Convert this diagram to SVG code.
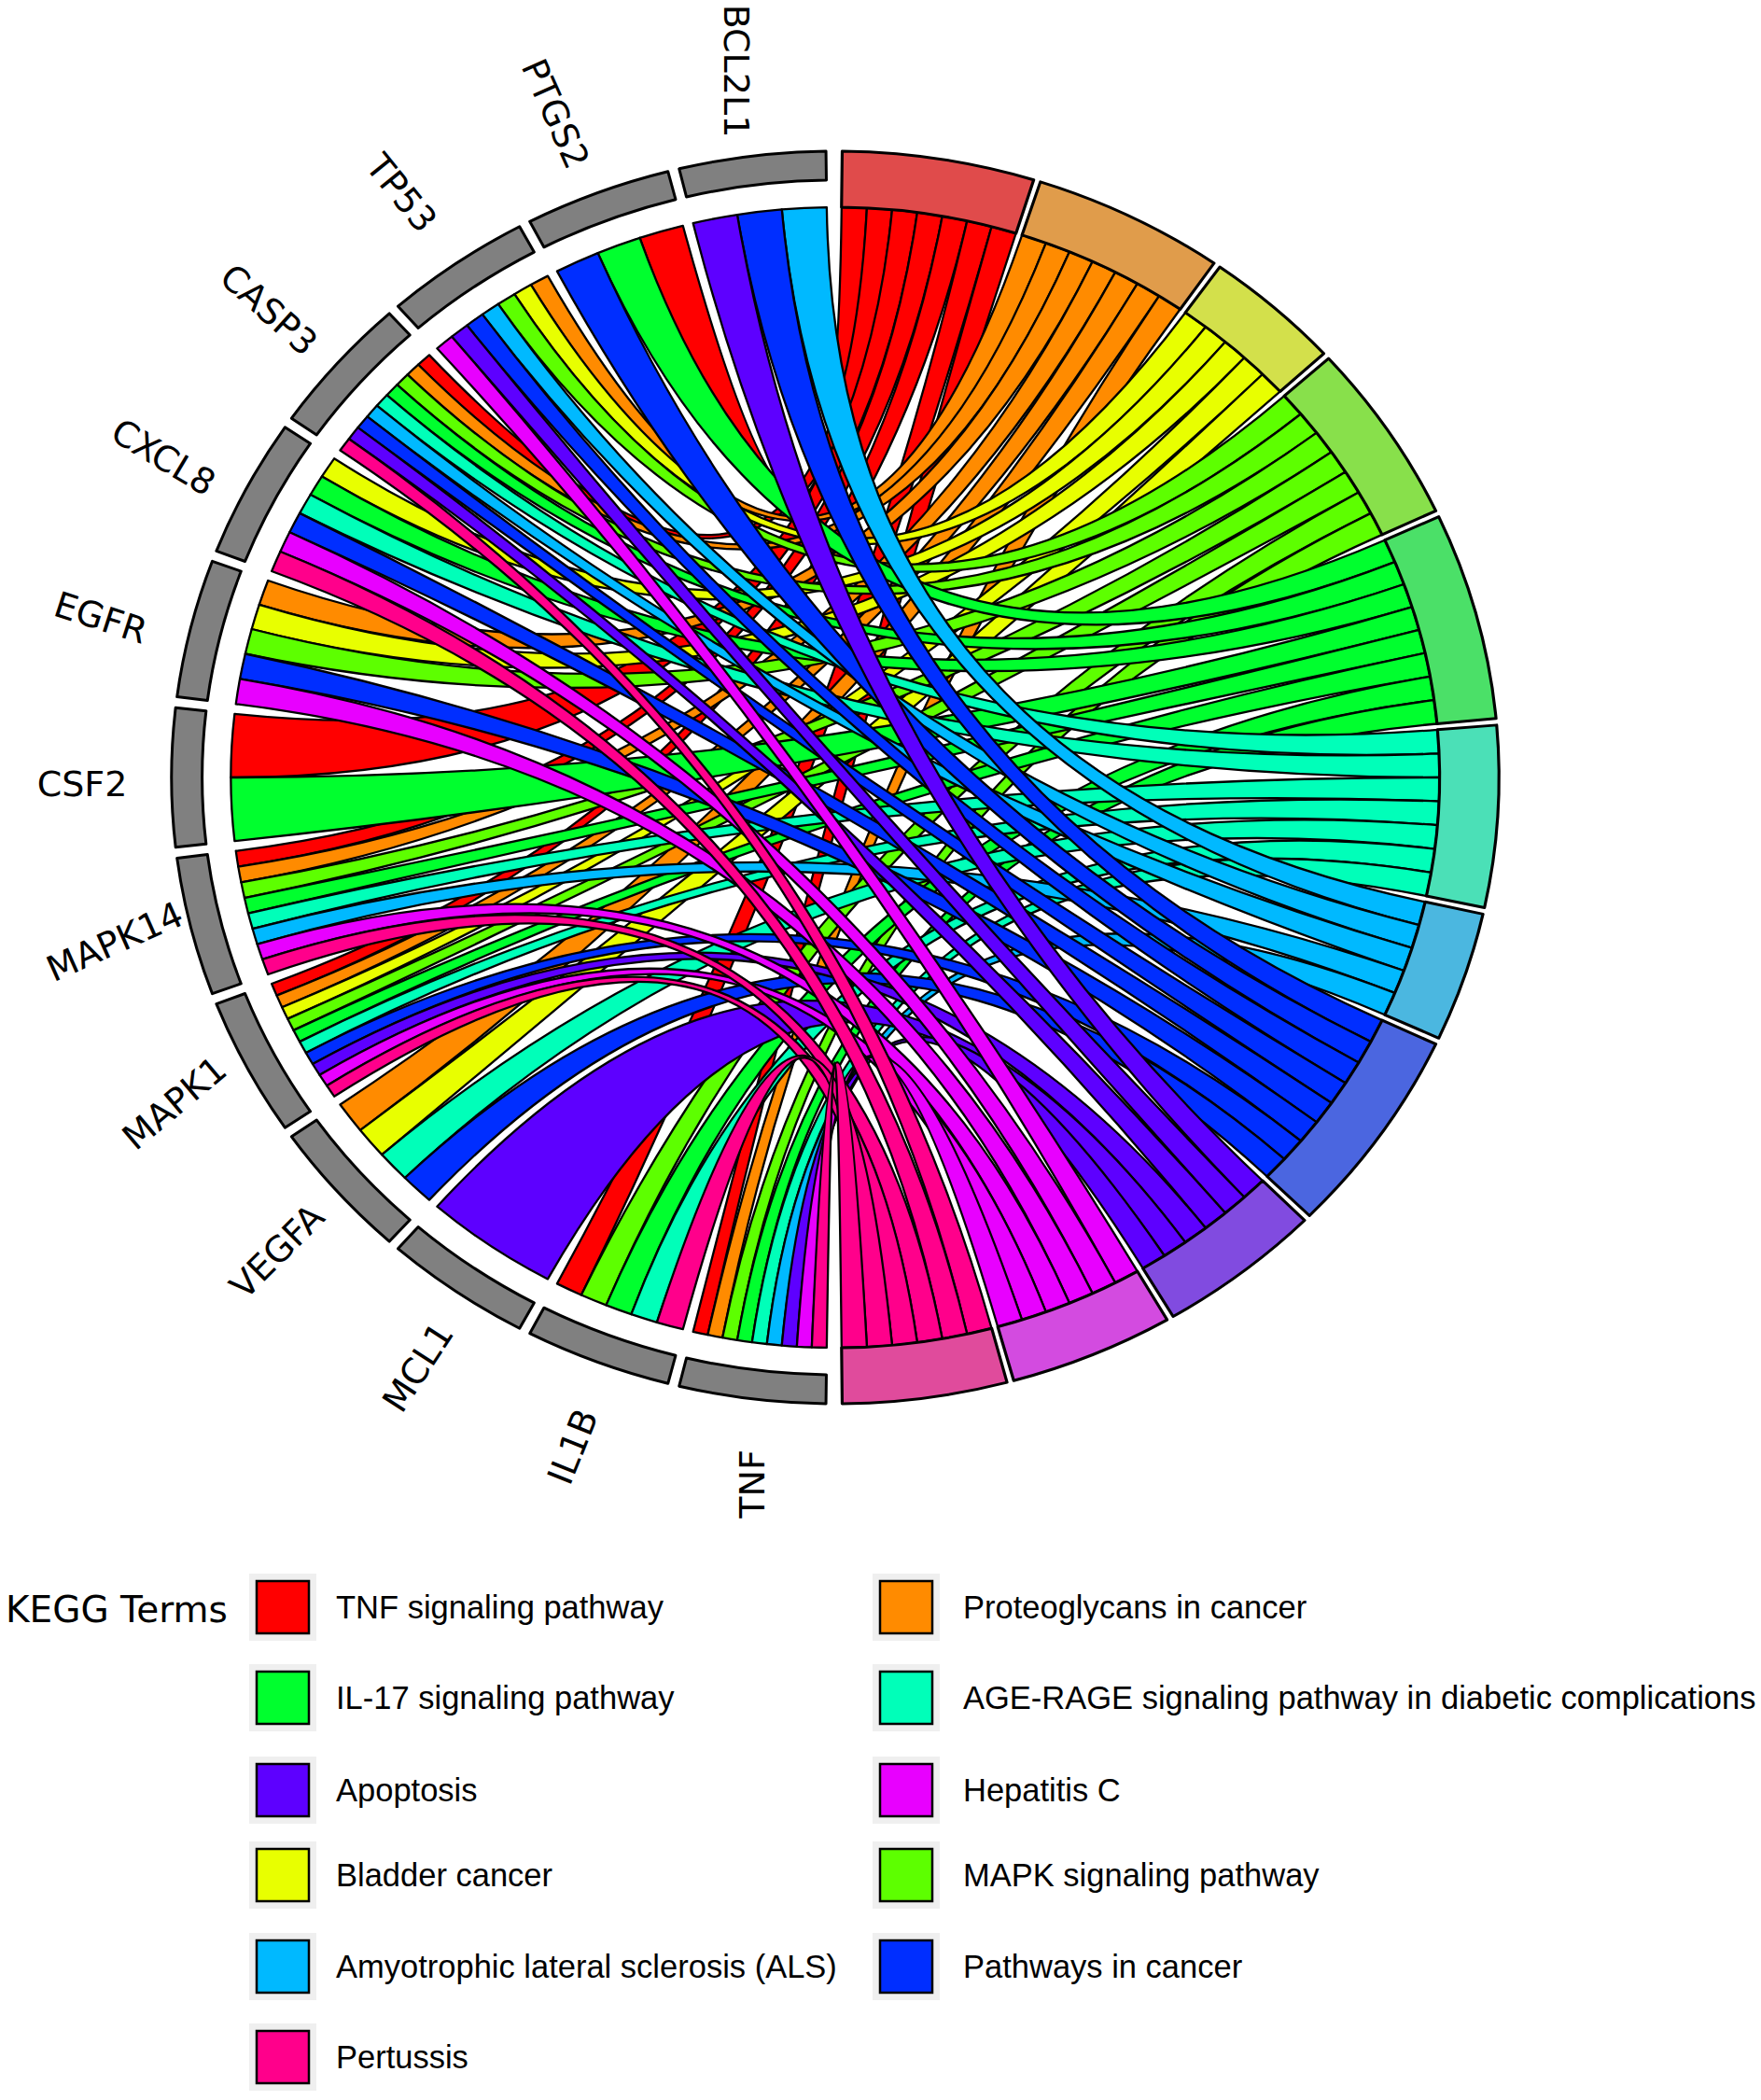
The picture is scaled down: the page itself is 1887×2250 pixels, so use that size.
<svg xmlns="http://www.w3.org/2000/svg" xmlns:xlink="http://www.w3.org/1999/xlink" width="1887" height="2250" viewBox="0 0 1887 2250">
<style>
.ch{stroke:#000;stroke-width:2.3;stroke-linejoin:round;vector-effect:non-scaling-stroke}
.c1{fill:#FF0000}.c2{fill:#FF8B00}.c3{fill:#E8FF00}.c4{fill:#5DFF00}.c5{fill:#00FF2E}.c6{fill:#00FFB9}.c7{fill:#00B9FF}.c8{fill:#002EFF}.c9{fill:#5D00FF}.c10{fill:#E800FF}.c11{fill:#FF008B}
.sec{stroke:#000;stroke-width:3;stroke-linejoin:round;vector-effect:non-scaling-stroke}
.gb{fill:#808080}
.lbl{font-family:"DejaVu Sans",sans-serif;font-size:38px;fill:#000}
.leg{font-family:"Liberation Sans",Arial,sans-serif;font-size:34.5px;fill:#000}
.ttl{font-family:"DejaVu Sans",sans-serif;font-size:39px;fill:#000}
.kbg{fill:#EFEFEF}
.key{stroke:#000;stroke-width:2.5}
</style>
<defs>
<path id="gs" class="sec gb" d="M-74.8 -666.8A671 671 0 0 1 74.8 -666.8L71.3 -636A640 640 0 0 0 -71.3 -636Z"/>
<path id="t5" d="M-70.1 -667.3A671 671 0 0 1 70.1 -667.3L63.9 -607.7A611 611 0 0 0 -63.9 -607.7Z"/>
<path id="t6" d="M-84.1 -665.7A671 671 0 0 1 84.1 -665.7L76.6 -606.2A611 611 0 0 0 -76.6 -606.2Z"/>
<path id="t7" d="M-98 -663.8A671 671 0 0 1 98 -663.8L89.3 -604.4A611 611 0 0 0 -89.3 -604.4Z"/>
<path id="t8" d="M-111.9 -661.6A671 671 0 0 1 111.9 -661.6L101.9 -602.5A611 611 0 0 0 -101.9 -602.5Z"/>
</defs>
<rect width="1887" height="2250" fill="#fff"/>
<g id="connectors" transform="translate(895 833) scale(1.06 1)">
<path class="ch c1" d="M-197.6 -578.2A611 611 0 0 1 -154 -591.2Q0 0 6.4 -610.9A611 611 0 0 1 32 -610.1Q0 0 -197.6 -578.2Z"/>
<path class="ch c1" d="M-421.5 -442.3A611 611 0 0 1 -410.4 -452.6Q0 0 32 -610.1A611 611 0 0 1 57.5 -608.3Q0 0 -421.5 -442.3Z"/>
<path class="ch c1" d="M-611 0A611 611 0 0 1 -607.2 -68.1Q0 0 57.5 -608.3A611 611 0 0 1 82.9 -605.3Q0 0 -611 0Z"/>
<path class="ch c1" d="M-603.5 95.6A611 611 0 0 1 -605.9 78.7Q0 0 82.9 -605.3A611 611 0 0 1 108.2 -601.3Q0 0 -603.5 95.6Z"/>
<path class="ch c1" d="M-564.6 233.6A611 611 0 0 1 -569.7 221Q0 0 108.2 -601.3A611 611 0 0 1 133.3 -596.3Q0 0 -564.6 233.6Z"/>
<path class="ch c1" d="M-256.7 554.5A611 611 0 0 1 -281.2 542.4Q0 0 133.3 -596.3A611 611 0 0 1 158.1 -590.2Q0 0 -256.7 554.5Z"/>
<path class="ch c1" d="M-128.9 597.2A611 611 0 0 1 -143.7 593.9Q0 0 158.1 -590.2A611 611 0 0 1 182.7 -583Q0 0 -128.9 597.2Z"/>
<path class="ch c2" d="M-307.6 -527.9A611 611 0 0 1 -290.6 -537.4Q0 0 188.8 -581.1A611 611 0 0 1 213 -572.7Q0 0 -307.6 -527.9Z"/>
<path class="ch c2" d="M-432.4 -431.7A611 611 0 0 1 -421.5 -442.3Q0 0 213 -572.7A611 611 0 0 1 236.8 -563.3Q0 0 -432.4 -431.7Z"/>
<path class="ch c2" d="M-582.3 -185.2A611 611 0 0 1 -573.4 -211Q0 0 236.8 -563.3A611 611 0 0 1 260.1 -552.8Q0 0 -582.3 -185.2Z"/>
<path class="ch c2" d="M-600.5 112.4A611 611 0 0 1 -603.5 95.6Q0 0 260.1 -552.8A611 611 0 0 1 283.1 -541.4Q0 0 -600.5 112.4Z"/>
<path class="ch c2" d="M-559.2 246.2A611 611 0 0 1 -564.6 233.6Q0 0 283.1 -541.4A611 611 0 0 1 305.5 -529.1Q0 0 -559.2 246.2Z"/>
<path class="ch c2" d="M-480.1 377.9A611 611 0 0 1 -500.5 350.5Q0 0 305.5 -529.1A611 611 0 0 1 327.4 -515.9Q0 0 -480.1 377.9Z"/>
<path class="ch c2" d="M-114 600.2A611 611 0 0 1 -128.9 597.2Q0 0 327.4 -515.9A611 611 0 0 1 348.7 -501.7Q0 0 -114 600.2Z"/>
<path class="ch c3" d="M-324.3 -517.8A611 611 0 0 1 -307.6 -527.9Q0 0 353.9 -498A611 611 0 0 1 374.5 -482.8Q0 0 -324.3 -517.8Z"/>
<path class="ch c3" d="M-518.9 -322.6A611 611 0 0 1 -506.5 -341.7Q0 0 374.5 -482.8A611 611 0 0 1 394.4 -466.7Q0 0 -518.9 -322.6Z"/>
<path class="ch c3" d="M-589.9 -159A611 611 0 0 1 -582.3 -185.2Q0 0 394.4 -466.7A611 611 0 0 1 413.6 -449.8Q0 0 -589.9 -159Z"/>
<path class="ch c3" d="M-553.6 258.6A611 611 0 0 1 -559.2 246.2Q0 0 413.6 -449.8A611 611 0 0 1 432 -432Q0 0 -553.6 258.6Z"/>
<path class="ch c3" d="M-458.3 404.1A611 611 0 0 1 -480.1 377.9Q0 0 432 -432A611 611 0 0 1 449.8 -413.6Q0 0 -458.3 404.1Z"/>
<path class="ch c4" d="M-340.7 -507.2A611 611 0 0 1 -324.3 -517.8Q0 0 454 -408.8A611 611 0 0 1 470.7 -389.5Q0 0 -340.7 -507.2Z"/>
<path class="ch c4" d="M-443 -420.8A611 611 0 0 1 -432.4 -431.7Q0 0 470.7 -389.5A611 611 0 0 1 486.7 -369.4Q0 0 -443 -420.8Z"/>
<path class="ch c4" d="M-596.4 -132.5A611 611 0 0 1 -589.9 -159Q0 0 486.7 -369.4A611 611 0 0 1 501.7 -348.7Q0 0 -596.4 -132.5Z"/>
<path class="ch c4" d="M-597.2 129.1A611 611 0 0 1 -600.5 112.4Q0 0 501.7 -348.7A611 611 0 0 1 515.9 -327.4Q0 0 -597.2 129.1Z"/>
<path class="ch c4" d="M-547.6 270.9A611 611 0 0 1 -553.6 258.6Q0 0 515.9 -327.4A611 611 0 0 1 529.1 -305.5Q0 0 -547.6 270.9Z"/>
<path class="ch c4" d="M-231.6 565.4A611 611 0 0 1 -256.7 554.5Q0 0 529.1 -305.5A611 611 0 0 1 541.4 -283.1Q0 0 -231.6 565.4Z"/>
<path class="ch c4" d="M-99.1 602.9A611 611 0 0 1 -114 600.2Q0 0 541.4 -283.1A611 611 0 0 1 552.8 -260.1Q0 0 -99.1 602.9Z"/>
<path class="ch c5" d="M-240 -561.9A611 611 0 0 1 -197.6 -578.2Q0 0 555.5 -254.3A611 611 0 0 1 565.7 -230.9Q0 0 -240 -561.9Z"/>
<path class="ch c5" d="M-453.2 -409.7A611 611 0 0 1 -443 -420.8Q0 0 565.7 -230.9A611 611 0 0 1 574.9 -207Q0 0 -453.2 -409.7Z"/>
<path class="ch c5" d="M-530.5 -303A611 611 0 0 1 -518.9 -322.6Q0 0 574.9 -207A611 611 0 0 1 583 -182.7Q0 0 -530.5 -303Z"/>
<path class="ch c5" d="M-607.2 68.1A611 611 0 0 1 -611 0Q0 0 583 -182.7A611 611 0 0 1 590.2 -158.1Q0 0 -607.2 68.1Z"/>
<path class="ch c5" d="M-593.4 145.7A611 611 0 0 1 -597.2 129.1Q0 0 590.2 -158.1A611 611 0 0 1 596.3 -133.3Q0 0 -593.4 145.7Z"/>
<path class="ch c5" d="M-541.4 283.1A611 611 0 0 1 -547.6 270.9Q0 0 596.3 -133.3A611 611 0 0 1 601.3 -108.2Q0 0 -541.4 283.1Z"/>
<path class="ch c5" d="M-206.2 575.2A611 611 0 0 1 -231.6 565.4Q0 0 601.3 -108.2A611 611 0 0 1 605.3 -82.9Q0 0 -206.2 575.2Z"/>
<path class="ch c5" d="M-84.1 605.2A611 611 0 0 1 -99.1 602.9Q0 0 605.3 -82.9A611 611 0 0 1 608.3 -57.5Q0 0 -84.1 605.2Z"/>
<path class="ch c6" d="M-463.3 -398.4A611 611 0 0 1 -453.2 -409.7Q0 0 608.9 -51.2A611 611 0 0 1 610.4 -25.6Q0 0 -463.3 -398.4Z"/>
<path class="ch c6" d="M-541.4 -283.1A611 611 0 0 1 -530.5 -303Q0 0 610.4 -25.6A611 611 0 0 1 611 0Q0 0 -541.4 -283.1Z"/>
<path class="ch c6" d="M-589 162.2A611 611 0 0 1 -593.4 145.7Q0 0 611 0A611 611 0 0 1 610.4 25.6Q0 0 -589 162.2Z"/>
<path class="ch c6" d="M-535 295.1A611 611 0 0 1 -541.4 283.1Q0 0 610.4 25.6A611 611 0 0 1 608.9 51.2Q0 0 -535 295.1Z"/>
<path class="ch c6" d="M-435 429A611 611 0 0 1 -458.3 404.1Q0 0 608.9 51.2A611 611 0 0 1 606.2 76.6Q0 0 -435 429Z"/>
<path class="ch c6" d="M-180.3 583.8A611 611 0 0 1 -206.2 575.2Q0 0 606.2 76.6A611 611 0 0 1 602.4 101.9Q0 0 -180.3 583.8Z"/>
<path class="ch c6" d="M-69.1 607A611 611 0 0 1 -84.1 605.2Q0 0 602.4 101.9A611 611 0 0 1 597.6 127Q0 0 -69.1 607Z"/>
<path class="ch c7" d="M-54 -608.6A611 611 0 0 1 -8.6 -610.9Q0 0 596.3 133.3A611 611 0 0 1 590.2 158.1Q0 0 -54 -608.6Z"/>
<path class="ch c7" d="M-356.7 -496.1A611 611 0 0 1 -340.7 -507.2Q0 0 590.2 158.1A611 611 0 0 1 583 182.7Q0 0 -356.7 -496.1Z"/>
<path class="ch c7" d="M-473 -386.7A611 611 0 0 1 -463.3 -398.4Q0 0 583 182.7A611 611 0 0 1 574.9 207Q0 0 -473 -386.7Z"/>
<path class="ch c7" d="M-584.3 178.7A611 611 0 0 1 -589 162.2Q0 0 574.9 207A611 611 0 0 1 565.7 230.9Q0 0 -584.3 178.7Z"/>
<path class="ch c7" d="M-54 608.6A611 611 0 0 1 -69.1 607Q0 0 565.7 230.9A611 611 0 0 1 555.5 254.3Q0 0 -54 608.6Z"/>
<path class="ch c8" d="M-99.1 -602.9A611 611 0 0 1 -54 -608.6Q0 0 552.8 260.1A611 611 0 0 1 541.4 283.1Q0 0 -99.1 -602.9Z"/>
<path class="ch c8" d="M-281.2 -542.4A611 611 0 0 1 -240 -561.9Q0 0 541.4 283.1A611 611 0 0 1 529.1 305.5Q0 0 -281.2 -542.4Z"/>
<path class="ch c8" d="M-372.3 -484.4A611 611 0 0 1 -356.7 -496.1Q0 0 529.1 305.5A611 611 0 0 1 515.9 327.4Q0 0 -372.3 -484.4Z"/>
<path class="ch c8" d="M-482.5 -374.9A611 611 0 0 1 -473 -386.7Q0 0 515.9 327.4A611 611 0 0 1 501.7 348.7Q0 0 -482.5 -374.9Z"/>
<path class="ch c8" d="M-551.6 -262.7A611 611 0 0 1 -541.4 -283.1Q0 0 501.7 348.7A611 611 0 0 1 486.7 369.4Q0 0 -551.6 -262.7Z"/>
<path class="ch c8" d="M-601.8 -105.7A611 611 0 0 1 -596.4 -132.5Q0 0 486.7 369.4A611 611 0 0 1 470.7 389.5Q0 0 -601.8 -105.7Z"/>
<path class="ch c8" d="M-528.3 307A611 611 0 0 1 -535 295.1Q0 0 470.7 389.5A611 611 0 0 1 454 408.8Q0 0 -528.3 307Z"/>
<path class="ch c8" d="M-410.4 452.6A611 611 0 0 1 -435 429Q0 0 454 408.8A611 611 0 0 1 436.5 427.5Q0 0 -410.4 452.6Z"/>
<path class="ch c9" d="M-143.7 -593.9A611 611 0 0 1 -99.1 -602.9Q0 0 432 432A611 611 0 0 1 413.6 449.8Q0 0 -143.7 -593.9Z"/>
<path class="ch c9" d="M-387.6 -472.3A611 611 0 0 1 -372.3 -484.4Q0 0 413.6 449.8A611 611 0 0 1 394.4 466.7Q0 0 -387.6 -472.3Z"/>
<path class="ch c9" d="M-491.6 -362.8A611 611 0 0 1 -482.5 -374.9Q0 0 394.4 466.7A611 611 0 0 1 374.5 482.8Q0 0 -491.6 -362.8Z"/>
<path class="ch c9" d="M-521.3 318.7A611 611 0 0 1 -528.3 307Q0 0 374.5 482.8A611 611 0 0 1 353.9 498Q0 0 -521.3 318.7Z"/>
<path class="ch c9" d="M-290.6 537.4A611 611 0 0 1 -402.5 459.7Q0 0 353.9 498A611 611 0 0 1 332.8 512.5Q0 0 -290.6 537.4Z"/>
<path class="ch c9" d="M-38.8 609.8A611 611 0 0 1 -54 608.6Q0 0 332.8 512.5A611 611 0 0 1 311 525.9Q0 0 -38.8 609.8Z"/>
<path class="ch c10" d="M-402.5 -459.7A611 611 0 0 1 -387.6 -472.3Q0 0 305.5 529.1A611 611 0 0 1 283.1 541.4Q0 0 -402.5 -459.7Z"/>
<path class="ch c10" d="M-561 -242A611 611 0 0 1 -551.6 -262.7Q0 0 283.1 541.4A611 611 0 0 1 260.1 552.8Q0 0 -561 -242Z"/>
<path class="ch c10" d="M-605.9 -78.7A611 611 0 0 1 -601.8 -105.7Q0 0 260.1 552.8A611 611 0 0 1 236.8 563.3Q0 0 -605.9 -78.7Z"/>
<path class="ch c10" d="M-579.1 194.9A611 611 0 0 1 -584.3 178.7Q0 0 236.8 563.3A611 611 0 0 1 213 572.7Q0 0 -579.1 194.9Z"/>
<path class="ch c10" d="M-514 330.2A611 611 0 0 1 -521.3 318.7Q0 0 213 572.7A611 611 0 0 1 188.8 581.1Q0 0 -514 330.2Z"/>
<path class="ch c10" d="M-23.7 610.5A611 611 0 0 1 -38.8 609.8Q0 0 188.8 581.1A611 611 0 0 1 164.3 588.5Q0 0 -23.7 610.5Z"/>
<path class="ch c11" d="M-500.5 -350.5A611 611 0 0 1 -491.6 -362.8Q0 0 158.1 590.2A611 611 0 0 1 133.3 596.3Q0 0 -500.5 -350.5Z"/>
<path class="ch c11" d="M-569.7 -221A611 611 0 0 1 -561 -242Q0 0 133.3 596.3A611 611 0 0 1 108.2 601.3Q0 0 -569.7 -221Z"/>
<path class="ch c11" d="M-573.4 211A611 611 0 0 1 -579.1 194.9Q0 0 108.2 601.3A611 611 0 0 1 82.9 605.3Q0 0 -573.4 211Z"/>
<path class="ch c11" d="M-506.5 341.7A611 611 0 0 1 -514 330.2Q0 0 82.9 605.3A611 611 0 0 1 57.5 608.3Q0 0 -506.5 341.7Z"/>
<path class="ch c11" d="M-154 591.2A611 611 0 0 1 -180.3 583.8Q0 0 57.5 608.3A611 611 0 0 1 32 610.1Q0 0 -154 591.2Z"/>
<path class="ch c11" d="M-8.6 610.9A611 611 0 0 1 -23.7 610.5Q0 0 32 610.1A611 611 0 0 1 6.4 610.9Q0 0 -8.6 610.9Z"/>
</g>
<g id="gene-TNF"><use xlink:href="#gs" href="#gs" transform="translate(895 833) scale(1.06 1) rotate(187.2)"/><text class="lbl" text-anchor="middle" dominant-baseline="central" transform="translate(806 1590) rotate(-90)">TNF</text></g>
<g id="gene-IL1B"><use xlink:href="#gs" href="#gs" transform="translate(895 833) scale(1.06 1) rotate(201)"/><text class="lbl" text-anchor="middle" dominant-baseline="central" transform="translate(614 1550) rotate(-68)">IL1B</text></g>
<g id="gene-MCL1"><use xlink:href="#gs" href="#gs" transform="translate(895 833) scale(1.06 1) rotate(214.8)"/><text class="lbl" text-anchor="middle" dominant-baseline="central" transform="translate(448 1465) rotate(-57)">MCL1</text></g>
<g id="gene-VEGFA"><use xlink:href="#gs" href="#gs" transform="translate(895 833) scale(1.06 1) rotate(228.6)"/><text class="lbl" text-anchor="middle" dominant-baseline="central" transform="translate(297 1341) rotate(-45)">VEGFA</text></g>
<g id="gene-MAPK1"><use xlink:href="#gs" href="#gs" transform="translate(895 833) scale(1.06 1) rotate(242.4)"/><text class="lbl" text-anchor="middle" dominant-baseline="central" transform="translate(187 1182) rotate(-40)">MAPK1</text></g>
<g id="gene-MAPK14"><use xlink:href="#gs" href="#gs" transform="translate(895 833) scale(1.06 1) rotate(256.2)"/><text class="lbl" text-anchor="middle" dominant-baseline="central" transform="translate(123 1009) rotate(-24)">MAPK14</text></g>
<g id="gene-CSF2"><use xlink:href="#gs" href="#gs" transform="translate(895 833) scale(1.06 1) rotate(270)"/><text class="lbl" text-anchor="middle" dominant-baseline="central" transform="translate(88 840)">CSF2</text></g>
<g id="gene-EGFR"><use xlink:href="#gs" href="#gs" transform="translate(895 833) scale(1.06 1) rotate(283.8)"/><text class="lbl" text-anchor="middle" dominant-baseline="central" transform="translate(108 662) rotate(18)">EGFR</text></g>
<g id="gene-CXCL8"><use xlink:href="#gs" href="#gs" transform="translate(895 833) scale(1.06 1) rotate(297.6)"/><text class="lbl" text-anchor="middle" dominant-baseline="central" transform="translate(175 490) rotate(31)">CXCL8</text></g>
<g id="gene-CASP3"><use xlink:href="#gs" href="#gs" transform="translate(895 833) scale(1.06 1) rotate(311.4)"/><text class="lbl" text-anchor="middle" dominant-baseline="central" transform="translate(288 332) rotate(42)">CASP3</text></g>
<g id="gene-TP53"><use xlink:href="#gs" href="#gs" transform="translate(895 833) scale(1.06 1) rotate(325.2)"/><text class="lbl" text-anchor="middle" dominant-baseline="central" transform="translate(430 207) rotate(51)">TP53</text></g>
<g id="gene-PTGS2"><use xlink:href="#gs" href="#gs" transform="translate(895 833) scale(1.06 1) rotate(339)"/><text class="lbl" text-anchor="middle" dominant-baseline="central" transform="translate(595 122) rotate(66)">PTGS2</text></g>
<g id="gene-BCL2L1"><use xlink:href="#gs" href="#gs" transform="translate(895 833) scale(1.06 1) rotate(352.8)"/><text class="lbl" text-anchor="middle" dominant-baseline="central" transform="translate(789 76) rotate(90)">BCL2L1</text></g>
<g id="term-TNF"><use xlink:href="#t7" href="#t7" class="sec" fill="#E04B4B" transform="translate(895 833) scale(1.06 1) rotate(9)"/></g>
<g id="term-Proteoglycans"><use xlink:href="#t7" href="#t7" class="sec" fill="#E09C4B" transform="translate(895 833) scale(1.06 1) rotate(26.4)"/></g>
<g id="term-Bladder"><use xlink:href="#t5" href="#t5" class="sec" fill="#D3E04B" transform="translate(895 833) scale(1.06 1) rotate(41.4)"/></g>
<g id="term-MAPK"><use xlink:href="#t7" href="#t7" class="sec" fill="#88E04B" transform="translate(895 833) scale(1.06 1) rotate(56.4)"/></g>
<g id="term-IL17"><use xlink:href="#t8" href="#t8" class="sec" fill="#4BE068" transform="translate(895 833) scale(1.06 1) rotate(75)"/></g>
<g id="term-AGERAGE"><use xlink:href="#t7" href="#t7" class="sec" fill="#4BE0B7" transform="translate(895 833) scale(1.06 1) rotate(93.6)"/></g>
<g id="term-ALS"><use xlink:href="#t5" href="#t5" class="sec" fill="#4BB7E0" transform="translate(895 833) scale(1.06 1) rotate(108.6)"/></g>
<g id="term-Pathways"><use xlink:href="#t8" href="#t8" class="sec" fill="#4B66E0" transform="translate(895 833) scale(1.06 1) rotate(124.8)"/></g>
<g id="term-Apoptosis"><use xlink:href="#t6" href="#t6" class="sec" fill="#814BE0" transform="translate(895 833) scale(1.06 1) rotate(142.2)"/></g>
<g id="term-HepatitisC"><use xlink:href="#t6" href="#t6" class="sec" fill="#D34BE0" transform="translate(895 833) scale(1.06 1) rotate(157.2)"/></g>
<g id="term-Pertussis"><use xlink:href="#t6" href="#t6" class="sec" fill="#E04B9C" transform="translate(895 833) scale(1.06 1) rotate(172.2)"/></g>
<g id="legend">
<text class="ttl" x="6" y="1738">KEGG Terms</text>
<g><rect class="kbg" x="267" y="1686" width="72" height="72"/><rect class="key c1" x="275" y="1694" width="56" height="56"/><text class="leg" x="360" y="1734">TNF signaling pathway</text></g>
<g><rect class="kbg" x="267" y="1783" width="72" height="72"/><rect class="key c5" x="275" y="1791" width="56" height="56"/><text class="leg" x="360" y="1831">IL-17 signaling pathway</text></g>
<g><rect class="kbg" x="267" y="1882" width="72" height="72"/><rect class="key c9" x="275" y="1890" width="56" height="56"/><text class="leg" x="360" y="1930">Apoptosis</text></g>
<g><rect class="kbg" x="267" y="1973" width="72" height="72"/><rect class="key c3" x="275" y="1981" width="56" height="56"/><text class="leg" x="360" y="2021">Bladder cancer</text></g>
<g><rect class="kbg" x="267" y="2071" width="72" height="72"/><rect class="key c7" x="275" y="2079" width="56" height="56"/><text class="leg" x="360" y="2119">Amyotrophic lateral sclerosis (ALS)</text></g>
<g><rect class="kbg" x="267" y="2168" width="72" height="72"/><rect class="key c11" x="275" y="2176" width="56" height="56"/><text class="leg" x="360" y="2216">Pertussis</text></g>
<g><rect class="kbg" x="935" y="1686" width="72" height="72"/><rect class="key c2" x="943" y="1694" width="56" height="56"/><text class="leg" x="1032" y="1734">Proteoglycans in cancer</text></g>
<g><rect class="kbg" x="935" y="1783" width="72" height="72"/><rect class="key c6" x="943" y="1791" width="56" height="56"/><text class="leg" x="1032" y="1831">AGE-RAGE signaling pathway in diabetic complications</text></g>
<g><rect class="kbg" x="935" y="1882" width="72" height="72"/><rect class="key c10" x="943" y="1890" width="56" height="56"/><text class="leg" x="1032" y="1930">Hepatitis C</text></g>
<g><rect class="kbg" x="935" y="1973" width="72" height="72"/><rect class="key c4" x="943" y="1981" width="56" height="56"/><text class="leg" x="1032" y="2021">MAPK signaling pathway</text></g>
<g><rect class="kbg" x="935" y="2071" width="72" height="72"/><rect class="key c8" x="943" y="2079" width="56" height="56"/><text class="leg" x="1032" y="2119">Pathways in cancer</text></g>
</g>
</svg>
